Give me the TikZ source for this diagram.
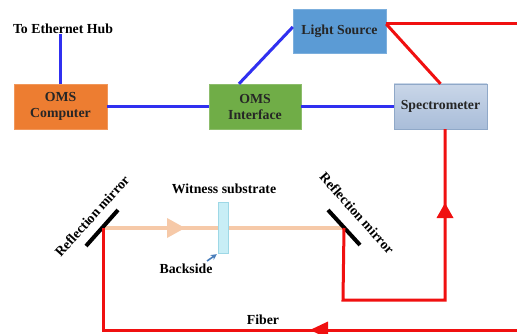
\documentclass[tikz,border=0pt]{standalone}
\usepackage{fontspec}
\setmainfont{Liberation Serif}
\usetikzlibrary{arrows.meta}
\definecolor{omsorange}{HTML}{ED7D31}
\definecolor{omsgreen}{HTML}{70AD47}
\definecolor{lsblue}{HTML}{5B9BD5}
\definecolor{spectop}{HTML}{C9D6E8}
\definecolor{specbot}{HTML}{A9BDD9}
\definecolor{specedge}{HTML}{8FA8C8}
\definecolor{wireblue}{HTML}{3030F0}
\definecolor{fibred}{HTML}{F01010}
\definecolor{beam}{HTML}{F6C9A8}
\definecolor{subst}{HTML}{C8EEF6}
\definecolor{substedge}{HTML}{9ED8E6}
\definecolor{pointer}{HTML}{4A7EBB}
\tikzset{
  lbl/.style={font=\fontsize{13.8}{15}\selectfont\bfseries, inner sep=0pt},
  unit/.style={minimum width=93pt, minimum height=45pt, inner sep=0pt, align=center,
    font=\fontsize{13.8}{16}\selectfont\bfseries, text=black!85},
  wire/.style={wireblue, line width=3pt},
  fibre/.style={fibred, line width=3pt},
  mirror/.style={black, line width=4pt},
}
\begin{document}
\begin{tikzpicture}[x=1pt,y=-1pt]
\useasboundingbox (0,0) rectangle (517,334);
\clip (0,0) rectangle (517,334);
\fill[white] (0,0) rectangle (517,334);
% units
\node[unit, fill=omsorange, draw=omsorange!80!white] (comp) at (60.5,106.5) {OMS\\Computer};
\node[unit, fill=omsgreen, draw=omsgreen!80!white, minimum width=92pt] (iface) at (255,106.5) {OMS\\Interface};
\node[unit, fill=lsblue, draw=lsblue!80!white, minimum height=44pt] (light) at (339.5,31) {Light Source};
\node[unit, top color=spectop, bottom color=specbot, draw=specedge] (spec) at (440.5,106.5) {Spectrometer};
\node[lbl] (hub) at (63,29) {To Ethernet Hub};
% wires
\draw[wire] (comp.north) -- (comp.north |- hub.south);
\draw[wire] (comp.east) -- (iface.west);
\draw[wire] (iface.east) -- (spec.west);
\draw[wire] ([xshift=-16pt]iface.north) -- ([yshift=4pt]light.west);
% optics
\coordinate (mL) at (103,228);
\coordinate (mR) at (344,228);
\draw[beam, line width=4pt] (mL) -- (mR);
\fill[beam] (185,228) -- (167,218) -- (167,238) -- cycle;
\node[fill=subst, draw=substedge, minimum width=10pt, minimum height=51pt, inner sep=0pt] (sub) at (223,227.5) {};
\draw[mirror] (86,246) -- (118,210);
\draw[mirror] (328,210) -- (360,245);
\node[lbl, rotate=48] (lblL) at (92,216) {Reflection mirror};
\node[lbl, rotate=-48] (lblR) at (357,213) {Reflection mirror};
\node[lbl] (wit) at (224,189) {Witness substrate};
\node[lbl] (back) at (186,269) {Backside};
\coordinate (ptail) at (207,261);
\draw[pointer, line width=1.6pt, -{Stealth[length=6pt,width=6pt]}] (ptail) -- ([xshift=-1pt,yshift=-1pt]sub.south west);
\node[lbl] (fib) at (263,320) {Fiber};
% fibres
\draw[fibre] ([yshift=7pt]light.east) -- (540,24) -- (540,330) -- (103,330) -- (mL);
\draw[fibre] ([yshift=7pt]light.east) -- (spec.north);
\draw[fibre] ([xshift=4.5pt]spec.south) -- (445,300) -- (343,300) -- (mR);
\fill[fibred] (445,203) -- (436.5,218) -- (453.5,218) -- cycle;
\fill[fibred] (310,330) -- (328,321.5) -- (328,338.5) -- cycle;
\end{tikzpicture}
\end{document}
